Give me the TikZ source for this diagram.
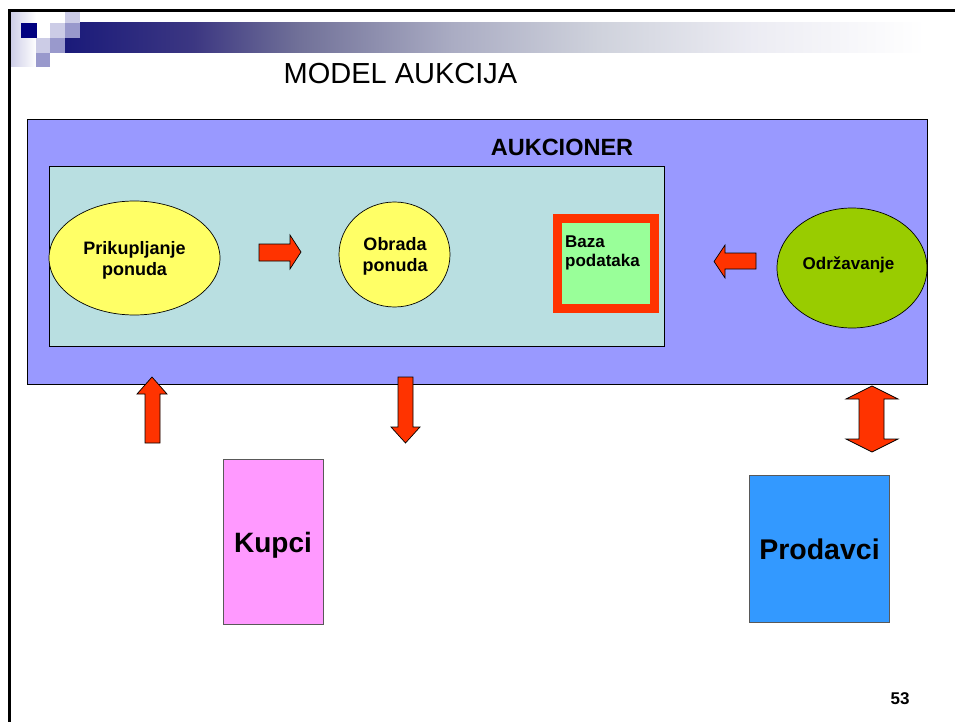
\documentclass[tikz,border=0pt]{standalone}
\usepackage{fontspec}
\setmainfont{Liberation Sans}
\usetikzlibrary{shapes.geometric}
\definecolor{purplebg}{HTML}{9999FF}
\definecolor{tealbg}{HTML}{B9DFE1}
\definecolor{yellowel}{HTML}{FFFF66}
\definecolor{greenel}{HTML}{99CC00}
\definecolor{bazagreen}{HTML}{99FF99}
\definecolor{arrowred}{HTML}{FF3300}
\definecolor{pinkbox}{HTML}{FF99FF}
\definecolor{bluebox}{HTML}{3399FF}
\definecolor{navydark}{HTML}{000080}
\definecolor{sqlight}{HTML}{CCCCE6}
\definecolor{sqmed}{HTML}{9999CC}
\definecolor{navyA}{RGB}{26,26,122}
\definecolor{navyB}{RGB}{60,55,130}
\definecolor{navyC}{RGB}{112,112,152}
\definecolor{navyD}{RGB}{170,172,195}
\definecolor{navyE}{RGB}{207,210,220}
\definecolor{navyF}{RGB}{236,236,243}
\pgfdeclarehorizontalshading{hdrbar}{100bp}{color(0bp)=(navyA); color(25bp)=(navyA); color(32.5bp)=(navyB); color(38.5bp)=(navyC); color(47.5bp)=(navyD); color(56bp)=(navyE); color(65bp)=(navyF); color(75bp)=(white); color(100bp)=(white)}
\begin{document}
\begin{tikzpicture}[x=1pt,y=-1pt,
  txt/.style={inner sep=0, align=center, font=\fontsize{18}{21}\selectfont\bfseries},
  blockarrow/.style={fill=arrowred, draw=black, line width=0.7pt, line join=miter},
  oval/.style={ellipse, draw=black, line width=0.7pt, inner sep=0},
  sq/.style={draw=none, inner sep=0, minimum size=15, anchor=north west}]
\useasboundingbox (0,0) rectangle (955,722);
\fill[white] (0,0) rectangle (955,722);
% header
\shade[left color=sqlight, right color=white] (10,12) rectangle (36,67);
\shade[shading=hdrbar] (65,23) rectangle (925,53);
\node[sq, fill=navydark, minimum width=16] (s1) at (21,23) {};
\node[sq, fill=sqlight] (s2) at (50,23) {};
\node[sq, fill=sqlight, minimum height=11] (s3) at (65,12) {};
\node[sq, fill=sqmed] (s4) at (65,23) {};
\node[sq, fill=sqlight, minimum width=14] (s5) at (36,38) {};
\node[sq, fill=sqmed] (s6) at (50,38) {};
\node[sq, fill=sqmed, minimum width=14, minimum height=14] (s7) at (36,53) {};
\draw[line width=2.4pt] (9.5,722) -- (9.5,10.5) -- (955,10.5);
% title
\node[anchor=base, inner sep=0, font=\fontsize{29}{33}\selectfont] (title) at (400.5,84) {MODEL AUKCIJA};
% main boxes
\node[draw=black, line width=0.8pt, fill=purplebg, anchor=north west, minimum width=900, minimum height=265, inner sep=0] (auk) at (27,119) {};
\node[anchor=base, inner sep=0, font=\fontsize{23.5}{26}\selectfont\bfseries] (aukt) at (562,156) {AUKCIONER};
\node[draw=black, line width=0.8pt, fill=tealbg, anchor=north west, minimum width=615, minimum height=180, inner sep=0] (inner) at (49,166) {};
% ellipses
\node[oval, fill=yellowel, minimum width=171, minimum height=114] (prik) at (134.5,258) {};
\node[txt, anchor=base] (prikt) at (134.5,275) {Prikupljanje\\ponuda};
\node[oval, fill=yellowel, minimum width=111, minimum height=105] (obr) at (394.5,254.5) {};
\node[txt, anchor=base] (obrt) at (395,271) {Obrada\\ponuda};
\node[oval, fill=greenel, minimum width=150, minimum height=120] (odr) at (852,268) {};
\node[txt, anchor=base, font=\fontsize{17}{20}\selectfont\bfseries] (odrt) at (848.5,269) {Održavanje};
% baza
\node[draw=arrowred, line width=8.5pt, fill=bazagreen, anchor=north west, minimum width=97, minimum height=90, inner sep=0] (baza) at (553,214) {};
\node[txt, anchor=base west, align=left, font=\fontsize{17}{19}\selectfont\bfseries] (bazat) at (565,266) {Baza\\podataka};
% block arrows
\draw[blockarrow] (259,244) -- (290,244) -- (290,235) -- (301,252) -- (290,269) -- (290,261) -- (259,261) -- cycle;
\draw[blockarrow] (756,253) -- (725,253) -- (725,245) -- (714,261.5) -- (725,278) -- (725,269) -- (756,269) -- cycle;
\draw[blockarrow] (145,443) -- (145,394) -- (137,394) -- (152,377) -- (167,394) -- (160,394) -- (160,443) -- cycle;
\draw[blockarrow] (398,377) -- (413,377) -- (413,427) -- (420,427) -- (405.5,443) -- (391,427) -- (398,427) -- cycle;
\draw[blockarrow] (872,386) -- (898,399) -- (884,399) -- (884,439) -- (898,439) -- (872,452) -- (846,439) -- (859,439) -- (859,399) -- (846,399) -- cycle;
% bottom boxes
\node[draw=black!65, line width=0.9pt, fill=pinkbox, anchor=north west, minimum width=100, minimum height=165, inner sep=0] (kup) at (223,459) {};
\node[anchor=base, inner sep=0, font=\fontsize{28}{32}\selectfont\bfseries] (kupt) at (273,552) {Kupci};
\node[draw=black!65, line width=0.9pt, fill=bluebox, anchor=north west, minimum width=140, minimum height=147, inner sep=0] (prod) at (749,475) {};
\node[anchor=base, inner sep=0, font=\fontsize{28.5}{32}\selectfont\bfseries] (prodt) at (819.5,559) {Prodavci};
\node[anchor=base, inner sep=0, font=\fontsize{17}{20}\selectfont\bfseries] (pg) at (900,704) {53};
\end{tikzpicture}
\end{document}
